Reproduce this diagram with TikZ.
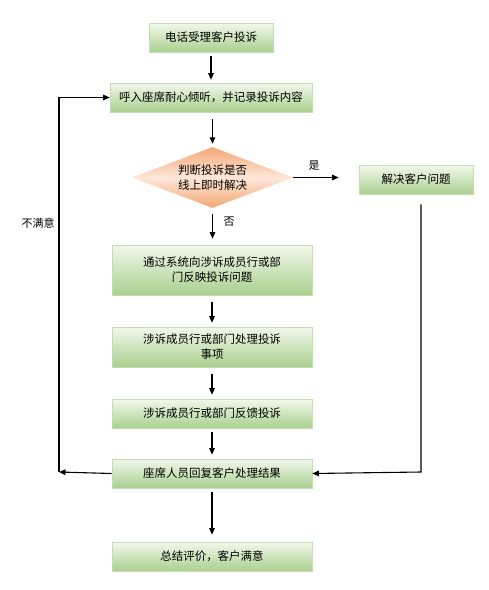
\documentclass[tikz,border=0pt]{standalone}
\usepackage{fontspec}
\setmainfont{Noto Sans CJK SC}
\usetikzlibrary{shapes.geometric,arrows.meta,calc}
\definecolor{gtop}{HTML}{F2F8EC}
\definecolor{gbot}{HTML}{A9D08E}
\definecolor{gborder}{HTML}{C4DCB4}
\definecolor{otop}{HTML}{F4A774}
\definecolor{omid}{HTML}{FDE7D8}
\tikzset{
  gbox/.style={draw=gborder, line width=0.6pt, top color=gtop, bottom color=gbot, inner sep=0pt, align=center, font=\fontsize{11.5}{15}\selectfont},
  dbox/.style={diamond, aspect=2.65, draw=none, top color=otop, bottom color=otop, middle color=omid, inner sep=0pt, align=center, font=\fontsize{11.5}{15}\selectfont, minimum width=161pt, minimum height=61pt},
  arr/.style={-{Triangle[length=6.5pt,width=5.5pt]}, line width=1.1pt, black},
  lbl/.style={font=\fontsize{11}{13}\selectfont}
}
\begin{document}
\begin{tikzpicture}[x=1pt,y=-1pt]
\useasboundingbox (0,0) rectangle (489,590);
\node[gbox, minimum width=124pt, minimum height=29pt] (b1) at (211,37.5) {电话受理客户投诉};
\node[gbox, minimum width=202pt, minimum height=29pt] (b2) at (211,97.5) {呼入座席耐心倾听，并记录投诉内容};
\node[dbox] (d) at (212.5,177.5) {判断投诉是否\\线上即时解决};
\node[gbox, minimum width=114pt, minimum height=29pt] (r) at (416,179.5) {解决客户问题};
\node[gbox, minimum width=200pt, minimum height=50pt] (b3) at (212,270) {通过系统向涉诉成员行或部\\门反映投诉问题};
\node[gbox, minimum width=200pt, minimum height=40pt] (b4) at (212,347) {涉诉成员行或部门处理投诉\\事项};
\node[gbox, minimum width=200pt, minimum height=29pt] (b5) at (212,413.5) {涉诉成员行或部门反馈投诉};
\node[gbox, minimum width=200pt, minimum height=29pt] (b6) at (212,473.5) {座席人员回复客户处理结果};
\node[gbox, minimum width=200pt, minimum height=29pt] (b7) at (212,556.5) {总结评价，客户满意};
\coordinate (c1) at (421,472);
\coordinate (cl) at (59,472);
\draw[arr, shorten <=4pt, shorten >=3pt] (b1) -- (b2);
\draw[arr, shorten <=7pt, shorten >=3pt] (b2.south -| d.north) -- (d.north);
\draw[arr, shorten <=6pt, shorten >=6pt] (d.south) -- (d.south |- b3.north);
\draw[arr, shorten >=20pt] (d.east) -- (r.west |- d.east);
\draw[arr, shorten <=10pt] (r.south -| c1) -- (c1) -- (b6.east);
\draw[arr] (b6.west) -- (cl);
\draw[arr] (cl) |- (b2.west);
\draw[arr, shorten <=7pt, shorten >=4pt] (b3) -- (b4);
\draw[arr, shorten <=7pt, shorten >=4pt] (b4) -- (b5);
\draw[arr, shorten <=4pt, shorten >=4pt] (b5) -- (b6);
\draw[arr, shorten <=4pt, shorten >=7pt] (b6) -- (b7);
\node[lbl] (yes) at (314,166) {是};
\node[lbl] (no) at (229,222) {否};
\node[lbl] (bmy) at (38,223) {不满意};
\end{tikzpicture}
\end{document}
